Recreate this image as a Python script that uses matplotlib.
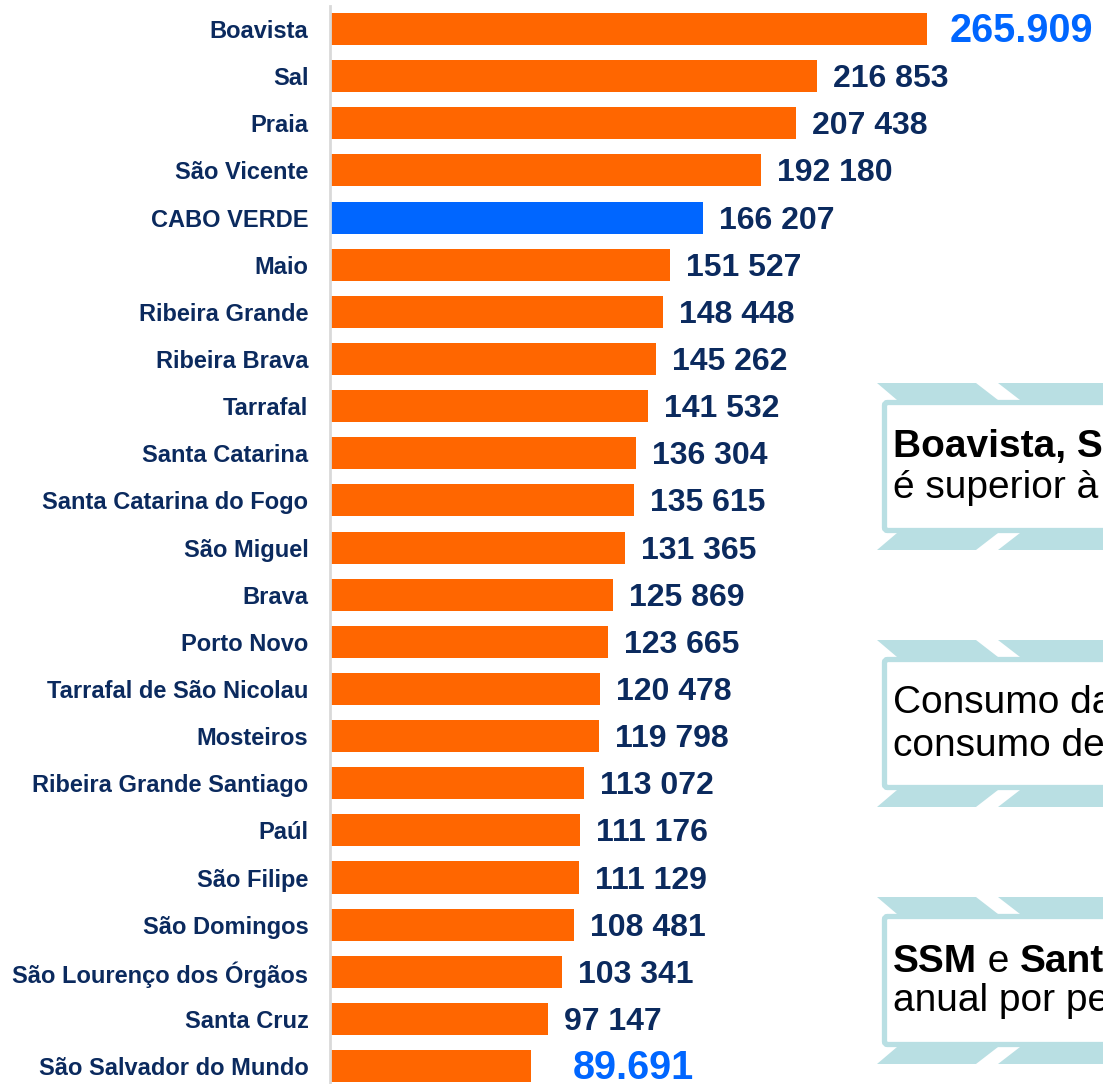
import matplotlib
matplotlib.use('Agg')
import matplotlib.pyplot as plt
from matplotlib.patches import Polygon, FancyBboxPatch

plt.rcParams['font.family'] = ['Liberation Sans', 'DejaVu Sans']

names = ['Boavista', 'Sal', 'Praia', 'São Vicente', 'CABO VERDE', 'Maio',
         'Ribeira Grande', 'Ribeira Brava', 'Tarrafal', 'Santa Catarina',
         'Santa Catarina do Fogo', 'São Miguel', 'Brava', 'Porto Novo',
         'Tarrafal de São Nicolau', 'Mosteiros', 'Ribeira Grande Santiago',
         'Paúl', 'São Filipe', 'São Domingos', 'São Lourenço dos Órgãos',
         'Santa Cruz', 'São Salvador do Mundo']
values = [265909, 216853, 207438, 192180, 166207, 151527, 148448, 145262,
          141532, 136304, 135615, 131365, 125869, 123665, 120478, 119798,
          113072, 111176, 111129, 108481, 103341, 97147, 89691]
national = 'CABO VERDE'
extremes = [0, len(values) - 1]   # max and min labelled in blue

navy = '#0b2a5e'
orange = '#ff6600'
blue = '#0066ff'
frame_col = '#b9dfe3'

W, H = 1103, 1084
fig = plt.figure(figsize=(W / 100, H / 100), dpi=100)

# main bar axes, placed in pixel terms
left_px, top_px = 330, 6
first_c, step = 29, 47.14
ax = fig.add_axes([left_px / W, 0, (W - left_px) / W, (H - top_px) / H])
px_per_unit = 597 / 265909
ax.set_xlim(0, (W - left_px) / px_per_unit)
ax.set_ylim((H - first_c) / step, (top_px - first_c) / step)

ypos = list(range(len(names)))
colors = [blue if n == national else orange for n in names]
bars = ax.barh(ypos, values, height=0.68, color=colors, zorder=2)

for i, (b, v) in enumerate(zip(bars, values)):
    if i in extremes:
        txt = f'{v:,}'.replace(',', '.')
        dx = 23 if i == 0 else 41
        ax.annotate(txt, xy=(v, i), xytext=(dx, -2), textcoords='offset pixels',
                    ha='left', va='center', fontsize=28.5, fontweight='bold', color=blue)
    else:
        txt = f'{v:,}'.replace(',', ' ')
        ax.annotate(txt, xy=(v, i), xytext=(16, -3), textcoords='offset pixels',
                    ha='left', va='center', fontsize=23, fontweight='bold', color=navy)

ax.set_yticks(ypos)
ax.set_yticklabels(names, fontsize=17, fontweight='bold', color=navy)
ax.tick_params(axis='y', length=0, pad=15.5)
ax.set_xticks([])
for s in ['top', 'right', 'bottom']:
    ax.spines[s].set_visible(False)
ax.spines['left'].set_color('#d9d9d9')
ax.spines['left'].set_linewidth(2)

# callout boxes overlay (pixel coordinates)
ov = fig.add_axes([0, 0, 1, 1])
ov.set_xlim(0, W)
ov.set_ylim(H, 0)
ov.axis('off')
ov.patch.set_visible(False)


def callout(band_top):
    ft = band_top + 17
    fb = ft + 133
    bb = fb + 17
    ov.add_patch(Polygon([(877, band_top), (976, band_top), (998, ft), (897, ft)],
                         closed=True, color=frame_col, lw=0))
    ov.add_patch(Polygon([(998, band_top), (1200, band_top), (1200, ft), (1020, ft)],
                         closed=True, color=frame_col, lw=0))
    ov.add_patch(Polygon([(897, fb), (998, fb), (976, bb), (877, bb)],
                         closed=True, color=frame_col, lw=0))
    ov.add_patch(Polygon([(1020, fb), (1200, fb), (1200, bb), (998, bb)],
                         closed=True, color=frame_col, lw=0))
    ov.add_patch(FancyBboxPatch((884.5, ft + 2.5), 400, 128,
                                boxstyle='round,pad=0,rounding_size=3',
                                fc='white', ec=frame_col, lw=3.8))


def line(x, y, parts, size=28):
    prev = None
    for txt, wt in parts:
        if prev is None:
            prev = ov.text(x, y, txt, fontsize=size, fontweight=wt,
                           ha='left', va='baseline', color='black')
        else:
            prev = ov.annotate(txt, xy=(1, 0), xycoords=prev, fontsize=size,
                               fontweight=wt, ha='left', va='bottom', color='black')


callout(383)
line(893, 457, [('Boavista, S', 'bold')])
line(893, 498, [('é superior à', 'normal')])

callout(640)
line(893, 713, [('Consumo da', 'normal')])
line(893, 756, [('consumo de', 'normal')])

callout(897)
line(893, 972, [('SSM', 'bold'), (' e ', 'normal'), ('Sant', 'bold')])
line(893, 1011, [('anual por pe', 'normal')])

fig.savefig('out.png', dpi=100)
